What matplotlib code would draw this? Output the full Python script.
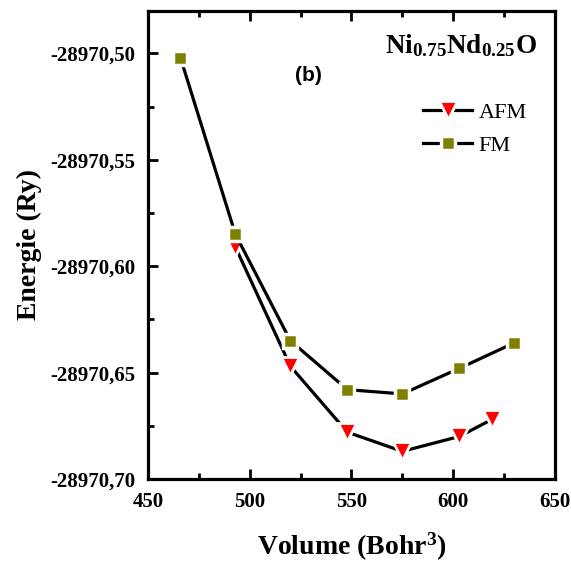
import numpy as np
import matplotlib
matplotlib.use("Agg")
import matplotlib.pyplot as plt
from matplotlib.ticker import MultipleLocator, FuncFormatter

plt.rcParams['mathtext.fontset'] = 'custom'
plt.rcParams['mathtext.rm'] = 'Liberation Serif:bold'
plt.rcParams['mathtext.it'] = 'Liberation Serif:bold'
plt.rcParams['mathtext.bf'] = 'Liberation Serif:bold'

# total energy vs cell volume
vol_afm = [493, 520, 548, 575, 603, 619]
e_afm = [-28970.591, -28970.647, -28970.678, -28970.687, -28970.680, -28970.672]
vol_fm = [466, 493, 520, 548, 575, 603, 630]
e_fm = [-28970.502, -28970.585, -28970.635, -28970.658, -28970.660, -28970.648, -28970.636]

fig = plt.figure(figsize=(5.71, 5.66), dpi=100)
ax = fig.add_axes([0.259, 0.1537, 0.713, 0.827])

ax.plot(vol_afm, e_afm, '-', color='k', lw=2.3, marker='v', ms=13.5,
        mfc='#ff0000', mec='white', mew=2, label='AFM')
ax.plot(vol_fm, e_fm, '-', color='k', lw=2.3, marker='s', ms=10,
        mfc='#808000', mec='white', mew=2.5, label='FM')

ax.set_xlim(450, 650)
ax.set_ylim(-28970.70, -28970.48)
ax.xaxis.set_major_locator(MultipleLocator(50))
ax.xaxis.set_minor_locator(MultipleLocator(25))
ax.yaxis.set_major_locator(MultipleLocator(0.05))
ax.yaxis.set_minor_locator(MultipleLocator(0.025))
ax.yaxis.set_major_formatter(FuncFormatter(lambda v, p: ('%.2f' % v).replace('.', ',')))

for s in ax.spines.values():
    s.set_linewidth(2.3)
ax.tick_params(which='both', direction='in', width=2, top=True, right=False)
ax.tick_params(which='major', length=7, pad=9)
ax.tick_params(which='minor', length=4)
for lab in ax.get_xticklabels() + ax.get_yticklabels():
    lab.set_fontfamily('Liberation Serif')
    lab.set_fontweight('bold')
    lab.set_fontsize(15)

ax.set_xlabel(r'Volume (Bohr$^3$)', family='Liberation Serif', weight='bold', fontsize=20, labelpad=14)
ax.set_ylabel('Energie (Ry)', family='Liberation Serif', weight='bold', fontsize=20, labelpad=6)

ax.text(0.955, 0.925, r'$\mathrm{Ni_{0.75}Nd_{0.25}O}$', transform=ax.transAxes,
        ha='right', va='center', fontsize=19.5)
ax.text(0.395, 0.862, '(b)', transform=ax.transAxes, ha='center', va='center',
        family='Liberation Sans', weight='bold', fontsize=15)

ax.legend(loc='center left', bbox_to_anchor=(0.676, 0.748), frameon=False,
          borderpad=0, borderaxespad=0,
          prop={'family': 'Liberation Serif', 'size': 16},
          handlelength=2.2, handletextpad=0.3, labelspacing=0.55)

fig.savefig('out.png', dpi=100)
